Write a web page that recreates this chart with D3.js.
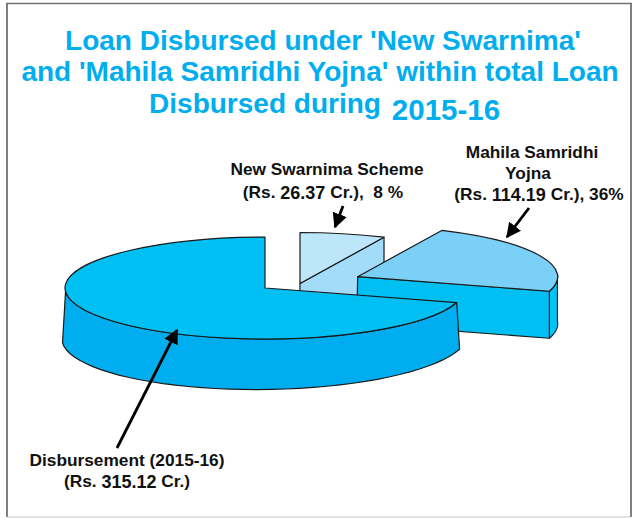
<!DOCTYPE html>
<html>
<head>
<meta charset="utf-8">
<title>Loan Disbursed 2015-16</title>
<script src="https://cdn.jsdelivr.net/npm/d3@7"></script>
<style>
  html, body { margin: 0; padding: 0; background: #fff; }
  svg { display: block; }
  text { font-family: "Liberation Sans", Arial, sans-serif; font-weight: bold; text-anchor: middle; white-space: pre; }
</style>
</head>
<body>
<svg id="chart"></svg>
<script>
// slices in drawing order, clockwise from 12 o'clock
var categories = ['New Swarnima Scheme', 'Mahila Samridhi Yojna', 'Disbursement (2015-16)'];
var amounts = [26.37, 114.19, 315.12];          // Rs. Cr., as printed on the labels
var sliceShares = [6.9, 22.7, 70.4];            // share of the ring as drawn
var percents = ['8 %', '36%', ''];
var titleLines = ["Loan Disbursed under 'New Swarnima'", "and 'Mahila Samridhi Yojna' within total Loan", 'Disbursed during'];
var titleYear = '2015-16';

var _W = 633,
  _H = 518,
  _RX = 200,
  _RY = 51;

// top face centre of each slice, the two small ones are pulled out
var _CENTERS = [[300, 283.5], [357.7, 276.7], [265, 288]];
var _DEPTHS = [48, 47, 48.5];
var _BOTTOM_RX = [200, 200, 203];
var _BOTTOM_RY = [51, 51, 53];
var _BOTTOM_TILT = [0, 0, -0.012];

var _TOP_COLORS = ['#bde6fb', '#7bd0f7', '#00bff3'];
var _SIDE_COLORS = ['#a3dcf9', '#00c4f9', '#00aeef'];
var _CUT_COLORS = ['#a3dcf9', '#00bff3', '#00aeef'];
var _STROKE = '#1a1a1a';

var svg = d3.select('#chart').attr('width', _W).attr('height', _H);

// frame
svg.append('rect').attr('width', _W).attr('height', _H).attr('fill', '#fff');
svg.append('line').attr('x1', 7).attr('y1', 3).attr('x2', 7).attr('y2', 517).attr('stroke', '#808080').attr('stroke-width', 2);
svg.append('line').attr('x1', 631).attr('y1', 3).attr('x2', 631).attr('y2', 517).attr('stroke', '#808080').attr('stroke-width', 2);
svg.append('line').attr('x1', 6).attr('y1', 3.5).attr('x2', 632).attr('y2', 3.5).attr('stroke', '#707070').attr('stroke-width', 1.5);
svg.append('line').attr('x1', 8).attr('y1', 517).attr('x2', 630).attr('y2', 517).attr('stroke', '#d8d8d8').attr('stroke-width', 1.5);

// title
var title = svg.append('g').attr('fill', '#00aeef').style('font-size', '28px');
title.append('text').attr('x', 323).attr('y', 50).text(titleLines[0]);
title.append('text').attr('x', 320).attr('y', 81).text(titleLines[1]);
title.append('text').attr('x', 265).attr('y', 113).text(titleLines[2]);
title.append('text').attr('x', 446).attr('y', 120).style('font-size', '29.5px').text(titleYear);

var pie = d3.pie().sort(null).value(function(d) { return d; });
var slices = pie(sliceShares);

var arc = d3.arc().innerRadius(0).outerRadius(_RX);
var line = d3.line();

// point on the top rim or on the bottom rim of slice i
function rim(i, a, bottom) {
  var c = _CENTERS[i];
  if (bottom) {
    var dx = _BOTTOM_RX[i] * Math.sin(a);
    return [c[0] + dx, c[1] + _DEPTHS[i] - _BOTTOM_RY[i] * Math.cos(a) + _BOTTOM_TILT[i] * dx];
  }
  return [c[0] + _RX * Math.sin(a), c[1] - _RY * Math.cos(a)];
}

function rimPoints(i, a0, a1, bottom) {
  return d3.range(41).map(function(k) {
    return rim(i, a0 + (a1 - a0) * k / 40, bottom);
  });
}

function face(g, pts, fill) {
  g.append('path')
    .attr('d', line(pts) + 'Z')
    .attr('fill', fill)
    .attr('stroke', _STROKE)
    .attr('stroke-width', 1.2)
    .attr('stroke-linejoin', 'round');
}

var pieG = svg.append('g');

slices.forEach(function(s, i) {
  var g = pieG.append('g').attr('class', 'slice').datum(categories[i]);
  var c = _CENTERS[i];
  var under = [c[0] - 1, c[1] + _DEPTHS[i]];

  if (i === 0) {
    // only the cut face towards the viewer shows
    face(g, [c, rim(i, s.endAngle), rim(i, s.endAngle, true), under], _CUT_COLORS[i]);
  }
  if (i === 1) {
    face(g, rimPoints(i, s.endAngle, 1.52).concat(rimPoints(i, 1.52, s.endAngle, true)), _SIDE_COLORS[i]);
    face(g, [c, rim(i, s.endAngle), rim(i, s.endAngle, true), under], _CUT_COLORS[i]);
  }
  if (i === 2) {
    // outer wall, up to where the rim turns away on the left
    face(g, rimPoints(i, s.startAngle, 4.64).concat(rimPoints(i, 4.64, s.startAngle, true)), _SIDE_COLORS[i]);
  }

  g.append('path')
    .attr('d', arc(s))
    .attr('transform', 'translate(' + c[0] + ',' + c[1] + ') scale(1,' + (_RY / _RX) + ')')
    .attr('fill', _TOP_COLORS[i])
    .attr('stroke', _STROKE)
    .attr('stroke-width', 1.2)
    .attr('stroke-linejoin', 'round')
    .style('vector-effect', 'non-scaling-stroke');
});

// arrows
var defs = svg.append('defs');
defs.append('marker')
  .attr('id', 'head')
  .attr('viewBox', '0 0 10 10')
  .attr('refX', 9)
  .attr('refY', 5)
  .attr('markerUnits', 'userSpaceOnUse')
  .attr('markerWidth', 15)
  .attr('markerHeight', 15)
  .attr('orient', 'auto')
  .append('path')
  .attr('d', 'M0,0L10,5L0,10Z')
  .attr('fill', '#000');

[[343, 206, 335, 227], [529, 208, 507, 237], [117, 448, 177, 330]].forEach(function(a) {
  svg.append('line')
    .attr('x1', a[0]).attr('y1', a[1]).attr('x2', a[2]).attr('y2', a[3])
    .attr('stroke', '#000')
    .attr('stroke-width', 2.8)
    .attr('marker-end', 'url(#head)');
});

// labels, the figures sit a little lower in the original
function amountLabel(x, y, before, value, after) {
  var t = svg.append('text').attr('x', x).attr('y', y).attr('fill', '#111').style('font-size', '17.3px');
  t.append('tspan').text(before);
  t.append('tspan').attr('dy', 1).style('font-size', '18px').text(value);
  t.append('tspan').attr('dy', -1).text(after);
}

function plainLabel(x, y, s) {
  svg.append('text').attr('x', x).attr('y', y).attr('fill', '#111').style('font-size', '17.3px').text(s);
}

plainLabel(327, 175, categories[0]);
amountLabel(323, 198, '(Rs. ', amounts[0].toFixed(2), ' Cr.),  ' + percents[0]);

plainLabel(532, 158, 'Mahila Samridhi');
plainLabel(528, 179, 'Yojna');
amountLabel(539, 200, '(Rs. ', amounts[1].toFixed(2), ' Cr.), ' + percents[1]);

plainLabel(127, 466, categories[2]);
amountLabel(127, 487, '(Rs. ', amounts[2].toFixed(2), ' Cr.)');
</script>
</body>
</html>
